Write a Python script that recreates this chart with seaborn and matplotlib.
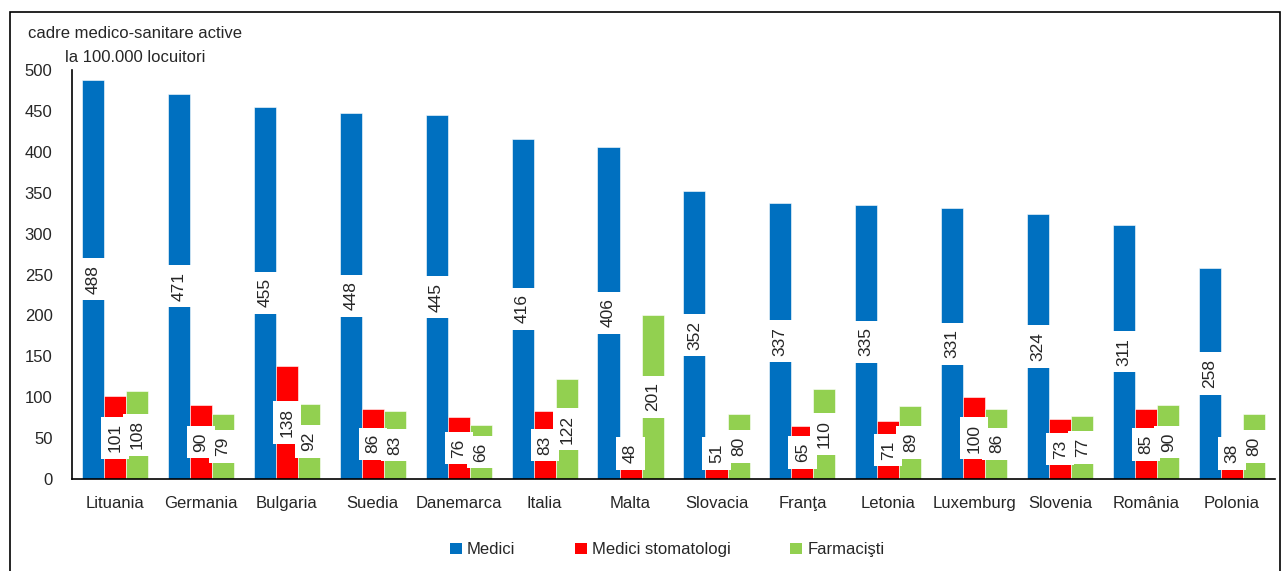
import numpy as np
import pandas as pd
import matplotlib
matplotlib.use("Agg")
import matplotlib.pyplot as plt
import seaborn as sns
from matplotlib.patches import Patch, Rectangle

# Date
tari = ['Lituania', 'Germania', 'Bulgaria', 'Suedia', 'Danemarca', 'Italia', 'Malta',
        'Slovacia', 'Franţa', 'Letonia', 'Luxemburg', 'Slovenia', 'România', 'Polonia']
medici = [488, 471, 455, 448, 445, 416, 406, 352, 337, 335, 331, 324, 311, 258]
stomatologi = [101, 90, 138, 86, 76, 83, 48, 51, 65, 71, 100, 73, 85, 38]
farmacisti = [108, 79, 92, 83, 66, 122, 201, 80, 110, 89, 86, 77, 90, 80]
serii = ['Medici', 'Medici stomatologi', 'Farmacişti']
culori = ['#0070C0', '#FF0000', '#92D050']

df = pd.DataFrame({
    'tara': tari * 3,
    'valoare': medici + stomatologi + farmacisti,
    'serie': [s for s in serii for _ in tari],
})

sns.set_style("white")
plt.rcParams['font.family'] = ['Liberation Sans', 'DejaVu Sans']

fig = plt.figure(figsize=(12.83, 5.71), dpi=100)
ax = fig.add_axes([0.0561, 0.1611, 0.9377, 0.7163])

sns.barplot(data=df, x='tara', y='valoare', hue='serie', palette=culori,
            saturation=1, width=0.77, edgecolor='white', linewidth=0.4,
            legend=False, ax=ax)

# etichete in mijlocul barelor (ca in Excel, nu coboara sub axa)
for cont in ax.containers:
    for bara in cont:
        h = bara.get_height()
        ax.text(bara.get_x() + bara.get_width() / 2, max(h / 2, 31), f'{h:.0f}',
                rotation=90, ha='center', va='center', fontsize=12.5,
                bbox=dict(boxstyle='square,pad=0.38', facecolor='white', edgecolor='none'))

ax.set_ylim(0, 500)
ax.set_xlim(-0.5, len(tari) - 0.5)
ax.set_yticks(np.arange(0, 501, 50))
ax.set_xlabel('')
ax.set_ylabel('')
for s in ['top', 'right']:
    ax.spines[s].set_visible(False)
for s in ['left', 'bottom']:
    ax.spines[s].set_color('black')
    ax.spines[s].set_linewidth(1.2)
ax.set_xticks(np.arange(-0.5, len(tari), 1), minor=True)
ax.tick_params(axis='x', which='major', length=0, labelsize=12, pad=12)
ax.tick_params(axis='x', which='minor', length=5, width=1.2, direction='out', color='black')
ax.tick_params(axis='y', length=0, labelsize=12, pad=14)

fig.text(0.022, 0.942, 'cadre medico-sanitare active', fontsize=12, va='center')
fig.text(0.051, 0.899, 'la 100.000 locuitori', fontsize=12, va='center')

handles = [Patch(facecolor=c, edgecolor='none') for c in culori]
fig.legend(handles, serii, loc='center', bbox_to_anchor=(0.52, 0.037), ncol=3,
           frameon=False, fontsize=12, handlelength=0.7, handleheight=0.7,
           handletextpad=0.3, columnspacing=3.6)

fig.patches.append(Rectangle((0.008, -0.01), 0.99, 0.989, transform=fig.transFigure,
                             fill=False, edgecolor='black', linewidth=1.2))

plt.savefig('out.png', dpi=100)
